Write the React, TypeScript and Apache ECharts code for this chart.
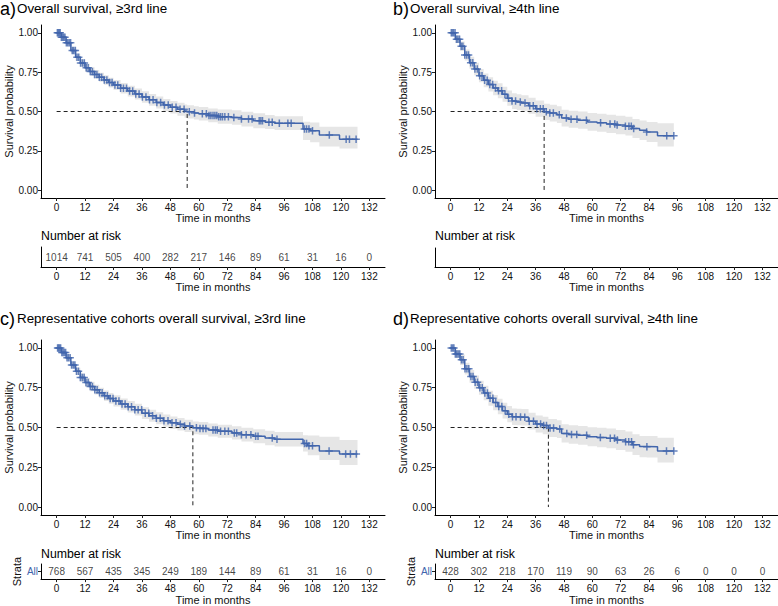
import React, { useEffect, useRef } from "react";
import * as echarts from "echarts";

// ---------- shared ticks ----------
const TIME_TICKS = [0, 12, 24, 36, 48, 60, 72, 84, 96, 108, 120, 132];
const SURV_TICKS = [0, 0.25, 0.5, 0.75, 1];

// ---------- panel a: overall survival, >=3rd line ----------
const timesA = [0, 2, 4, 6, 8, 10, 12, 14, 16, 18, 20, 22, 24, 27, 30, 33, 36, 39, 42, 45, 48, 51, 54, 55.1, 58, 60, 64, 68, 74, 78, 83, 88, 92, 104, 107, 110.9, 119.4, 127];
const survA = [1.0, 0.972, 0.937, 0.888, 0.845, 0.808, 0.778, 0.755, 0.736, 0.718, 0.7, 0.684, 0.668, 0.648, 0.63, 0.611, 0.592, 0.574, 0.557, 0.541, 0.527, 0.514, 0.503, 0.498, 0.491, 0.486, 0.475, 0.467, 0.462, 0.452, 0.441, 0.432, 0.425, 0.388, 0.378, 0.35, 0.323, 0.323];
const lowA = [1.0, 0.962, 0.922, 0.868, 0.823, 0.784, 0.752, 0.728, 0.708, 0.689, 0.67, 0.653, 0.636, 0.615, 0.596, 0.576, 0.556, 0.537, 0.519, 0.502, 0.487, 0.473, 0.461, 0.456, 0.449, 0.443, 0.431, 0.422, 0.416, 0.405, 0.393, 0.388, 0.383, 0.318, 0.305, 0.278, 0.265, 0.265];
const upA = [1.0, 0.982, 0.952, 0.908, 0.867, 0.832, 0.804, 0.782, 0.764, 0.747, 0.73, 0.715, 0.7, 0.681, 0.664, 0.646, 0.628, 0.611, 0.595, 0.58, 0.567, 0.555, 0.545, 0.54, 0.533, 0.529, 0.519, 0.512, 0.508, 0.499, 0.489, 0.478, 0.47, 0.435, 0.43, 0.403, 0.403, 0.403];
const censA = [0.3, 0.7, 1.1, 1.5, 2, 2.5, 3, 3.5, 4.1, 4.7, 5.3, 5.9, 6.6, 7.2, 7.9, 8.6, 9.3, 10.1, 10.9, 11.7, 12.5, 13.3, 14.2, 15.1, 16, 17, 18, 19, 20.1, 21.2, 22.3, 23.4, 24.6, 25.8, 27, 28.2, 29.5, 30.8, 32.1, 33.4, 34.8, 36.2, 37.7, 39.2, 40.7, 42.3, 43.9, 45.5, 47.1, 48.8, 50.4, 52.1, 53.8, 56, 58.2, 61.5, 63.2, 64.3, 65.1, 66, 66.8, 67.6, 68.4, 69.2, 70, 71, 72.5, 74.8, 78, 81, 82.5, 85.5, 86.2, 86.9, 89.6, 91, 94, 97.6, 99, 104.6, 105.5, 106.5, 108, 115.1, 122.2, 123.6, 126.4];
const medianA = 55.1;
const riskA = [1014, 741, 505, 400, 282, 217, 146, 89, 61, 31, 16, 0];

// ---------- panel b: overall survival, >=4th line ----------
const timesB = [0, 2, 4, 6, 8, 10, 12, 14, 16, 18, 20, 22, 24, 26, 28, 30, 33, 36, 39.6, 42, 45, 47, 50, 54, 58, 62, 66, 70, 74, 77, 80, 83, 87.6, 94.5];
const survB = [1.0, 0.96, 0.915, 0.86, 0.81, 0.77, 0.728, 0.698, 0.672, 0.65, 0.632, 0.61, 0.585, 0.566, 0.56, 0.554, 0.536, 0.518, 0.498, 0.49, 0.48, 0.458, 0.451, 0.445, 0.434, 0.428, 0.421, 0.414, 0.407, 0.392, 0.38, 0.369, 0.346, 0.346];
const lowB = [1.0, 0.935, 0.885, 0.825, 0.772, 0.73, 0.686, 0.654, 0.627, 0.604, 0.585, 0.562, 0.536, 0.516, 0.51, 0.504, 0.485, 0.466, 0.446, 0.437, 0.427, 0.405, 0.397, 0.39, 0.378, 0.371, 0.363, 0.355, 0.347, 0.331, 0.318, 0.306, 0.278, 0.278];
const upB = [1.0, 0.985, 0.945, 0.895, 0.848, 0.81, 0.77, 0.742, 0.717, 0.696, 0.679, 0.658, 0.634, 0.616, 0.61, 0.604, 0.587, 0.57, 0.55, 0.543, 0.533, 0.511, 0.505, 0.5, 0.49, 0.485, 0.479, 0.473, 0.467, 0.453, 0.442, 0.433, 0.425, 0.425];
const censB = [0.3, 0.8, 1.3, 1.9, 2.5, 3.1, 3.8, 4.5, 5.2, 6, 6.8, 7.6, 8.5, 9.4, 10.3, 11.3, 12.3, 13.3, 14.4, 15.5, 16.6, 17.8, 19, 20.3, 21.6, 23, 24.5, 26, 27.5, 29.5, 31.5, 33.5, 35, 36.5, 38, 39.2, 40.5, 42, 43.5, 46, 49, 51, 53.5, 57.5, 63.5, 67.5, 69.5, 70.5, 74, 75.5, 76.5, 77.5, 83, 91.5, 94.5];
const medianB = 39.6;
const riskB: number[] = [];

// ---------- panel c: representative cohorts, >=3rd line ----------
const timesC = [0, 2, 4, 6, 8, 10, 12, 14, 16, 18, 20, 22, 24, 27, 30, 33, 36, 39, 42, 45, 48, 51, 54, 57.5, 60, 64, 68, 74, 78, 83, 88, 92, 104, 106, 110.9, 119.4, 127];
const survC = [1.0, 0.972, 0.938, 0.893, 0.853, 0.815, 0.783, 0.758, 0.738, 0.718, 0.7, 0.683, 0.667, 0.647, 0.63, 0.612, 0.59, 0.574, 0.558, 0.543, 0.53, 0.52, 0.51, 0.498, 0.494, 0.484, 0.477, 0.466, 0.455, 0.445, 0.434, 0.426, 0.399, 0.385, 0.352, 0.333, 0.333];
const lowC = [1.0, 0.96, 0.922, 0.873, 0.83, 0.789, 0.755, 0.728, 0.707, 0.686, 0.667, 0.649, 0.632, 0.611, 0.594, 0.575, 0.553, 0.536, 0.52, 0.505, 0.491, 0.481, 0.471, 0.458, 0.454, 0.443, 0.436, 0.424, 0.412, 0.401, 0.389, 0.38, 0.349, 0.325, 0.296, 0.264, 0.264];
const upC = [1.0, 0.984, 0.954, 0.913, 0.876, 0.841, 0.811, 0.788, 0.769, 0.75, 0.733, 0.717, 0.702, 0.683, 0.666, 0.649, 0.627, 0.612, 0.596, 0.581, 0.569, 0.559, 0.549, 0.538, 0.534, 0.525, 0.518, 0.508, 0.498, 0.489, 0.479, 0.472, 0.452, 0.45, 0.442, 0.421, 0.421];
const censC = [0.4, 0.8, 1.2, 1.7, 2.2, 2.7, 3.2, 3.8, 4.4, 5, 5.7, 6.3, 7, 7.7, 8.4, 9.2, 10, 10.8, 11.6, 12.4, 13.3, 14.2, 15.1, 16.1, 17.1, 18.1, 19.2, 20.3, 21.4, 22.6, 23.8, 25, 26.3, 27.6, 28.9, 30.2, 31.6, 33, 34.4, 35.9, 37.4, 38.9, 40.5, 42.1, 43.7, 45.3, 47, 48.7, 50.4, 52.2, 54, 56.2, 59, 60.5, 61.8, 63, 66, 67, 67.8, 69.2, 71, 72.5, 75, 76, 78, 80, 82, 84, 85, 91, 93, 104.6, 105.5, 106.5, 108, 115, 122, 124, 126.5];
const medianC = 57.5;
const riskC = [768, 567, 435, 345, 249, 189, 144, 89, 61, 31, 16, 0];

// ---------- panel d: representative cohorts, >=4th line ----------
const timesD = [0, 2, 4, 6, 8, 10, 12, 14, 16, 18, 20, 22, 24, 26, 28, 30, 33, 36, 39, 41.4, 45, 47, 50, 54, 58, 62, 66, 70, 74, 77, 80, 83, 87.6, 94.5];
const survD = [1.0, 0.962, 0.926, 0.87, 0.821, 0.785, 0.75, 0.717, 0.684, 0.657, 0.632, 0.606, 0.584, 0.568, 0.566, 0.564, 0.54, 0.522, 0.512, 0.497, 0.49, 0.463, 0.456, 0.451, 0.442, 0.437, 0.432, 0.421, 0.411, 0.392, 0.38, 0.379, 0.352, 0.352];
const lowD = [1.0, 0.937, 0.893, 0.833, 0.781, 0.743, 0.706, 0.671, 0.637, 0.609, 0.583, 0.556, 0.533, 0.516, 0.514, 0.512, 0.487, 0.468, 0.457, 0.441, 0.434, 0.406, 0.398, 0.392, 0.382, 0.376, 0.37, 0.358, 0.347, 0.327, 0.313, 0.311, 0.28, 0.28];
const upD = [1.0, 0.987, 0.959, 0.907, 0.861, 0.827, 0.794, 0.763, 0.731, 0.705, 0.681, 0.656, 0.635, 0.62, 0.618, 0.616, 0.593, 0.576, 0.567, 0.553, 0.546, 0.52, 0.514, 0.51, 0.502, 0.498, 0.494, 0.484, 0.475, 0.457, 0.447, 0.447, 0.435, 0.435];
const censD = [0.3, 0.9, 1.4, 2, 2.6, 3.2, 3.9, 4.6, 5.3, 6.1, 6.9, 7.7, 8.6, 9.5, 10.4, 11.4, 12.4, 13.4, 14.5, 15.6, 16.7, 17.9, 19.1, 20.4, 21.7, 23.1, 24.6, 26.2, 27.7, 29.6, 31.4, 33.3, 35.1, 36.6, 38.1, 39.4, 40.6, 42.1, 43.6, 46.2, 49.2, 51.2, 53.4, 57.6, 63.4, 67.6, 69.4, 70.6, 74.1, 75.4, 76.6, 77.4, 83.1, 91.4, 94.5];
const medianD = 41.4;
const riskD = [428, 302, 218, 170, 119, 90, 63, 26, 6, 0, 0, 0];

// ---------- styling ----------
const FONT = "Liberation Sans, Arial, Helvetica, sans-serif";
const BLUE = "#4165AC";
const BAND = "#E6E6E6";
const TXT = "#111";
const PLUS = "path://M4,0H6V4H10V6H6V10H4V6H0V4H4Z";

type Panel = {
  letter: string;
  title: string;
  times: number[];
  surv: number[];
  low: number[];
  up: number[];
  cens: number[];
  median: number;
  risk: number[];
  strata: boolean;
  left: number;
  width: number;
  mainTop: number;
  mainH: number;
  riskTop: number;
  riskH: number;
  titleTop: number;
  nrTop: number;
};

const panels: Panel[] = [
  { letter: "a)", title: "Overall survival, \u22653rd line", times: timesA, surv: survA, low: lowA, up: upA, cens: censA, median: medianA, risk: riskA, strata: false,
    left: 41, width: 344, mainTop: 25, mainH: 173, riskTop: 247, riskH: 20, titleTop: 0, nrTop: 230 },
  { letter: "b)", title: "Overall survival, \u22654th line", times: timesB, surv: survB, low: lowB, up: upB, cens: censB, median: medianB, risk: riskB, strata: false,
    left: 435, width: 351, mainTop: 25, mainH: 173, riskTop: 248, riskH: 19, titleTop: 0, nrTop: 230 },
  { letter: "c)", title: "Representative cohorts overall survival, \u22653rd line", times: timesC, surv: survC, low: lowC, up: upC, cens: censC, median: medianC, risk: riskC, strata: true,
    left: 41, width: 344, mainTop: 340, mainH: 175, riskTop: 564, riskH: 18, titleTop: 310, nrTop: 548 },
  { letter: "d)", title: "Representative cohorts overall survival, \u22654th line", times: timesD, surv: survD, low: lowD, up: upD, cens: censD, median: medianD, risk: riskD, strata: true,
    left: 435, width: 351, mainTop: 340, mainH: 175, riskTop: 564, riskH: 18, titleTop: 310, nrTop: 548 },
];

function stepAt(times: number[], surv: number[], t: number): number {
  let s = surv[0];
  for (let i = 0; i < times.length; i++) if (times[i] <= t) s = surv[i];
  return s;
}

function bandRenderer(times: number[], low: number[], up: number[]) {
  return (_params: any, api: any) => {
    const top: number[][] = [];
    const bot: number[][] = [];
    for (let i = 0; i < times.length; i++) {
      const t0 = times[i];
      const t1 = i + 1 < times.length ? times[i + 1] : times[i];
      top.push(api.coord([t0, up[i]]), api.coord([t1, up[i]]));
      bot.push(api.coord([t0, low[i]]), api.coord([t1, low[i]]));
    }
    return {
      type: "polygon",
      shape: { points: top.concat(bot.reverse()) },
      style: { fill: BAND },
      silent: true,
    };
  };
}

const axisLine = { show: true, onZero: false, lineStyle: { color: "#000", width: 1 } };
const axisTickBase = { show: true, length: 3, lineStyle: { color: "#222", width: 1 } };

function timeAxis(gridIndex: number) {
  return {
    type: "value",
    gridIndex,
    min: -6.6,
    max: 138.6,
    name: "Time in months",
    nameLocation: "middle",
    nameGap: 14,
    nameTextStyle: { fontFamily: FONT, fontSize: 11, color: TXT, verticalAlign: "top" },
    axisLine,
    axisTick: { ...axisTickBase, customValues: TIME_TICKS },
    axisLabel: { customValues: TIME_TICKS, fontFamily: FONT, fontSize: 10, color: TXT, margin: 4 },
    splitLine: { show: false },
  };
}

function buildOption() {
  const grid: any[] = [];
  const xAxis: any[] = [];
  const yAxis: any[] = [];
  const series: any[] = [];
  const title: any[] = [];

  panels.forEach((p, k) => {
    const gMain = k * 2;
    const gRisk = k * 2 + 1;
    grid.push({ left: p.left, top: p.mainTop, width: p.width, height: p.mainH, containLabel: false });
    grid.push({ left: p.left, top: p.riskTop, width: p.width, height: p.riskH, containLabel: false });

    xAxis.push(timeAxis(gMain));
    xAxis.push(timeAxis(gRisk));

    yAxis.push({
      type: "value",
      gridIndex: gMain,
      min: -0.05,
      max: 1.05,
      name: "Survival probability",
      nameLocation: "middle",
      nameGap: 21,
      nameTextStyle: { fontFamily: FONT, fontSize: 11, color: TXT },
      axisLine,
      axisTick: { ...axisTickBase, customValues: SURV_TICKS },
      axisLabel: {
        customValues: SURV_TICKS,
        fontFamily: FONT,
        fontSize: 10,
        color: TXT,
        margin: 3,
        formatter: (v: number) => v.toFixed(2),
      },
      splitLine: { show: false },
    });
    yAxis.push({
      type: "category",
      gridIndex: gRisk,
      data: [p.strata ? "All" : ""],
      name: p.strata ? "Strata" : "",
      nameLocation: "middle",
      nameGap: 15,
      nameTextStyle: { fontFamily: FONT, fontSize: 11, color: TXT },
      axisLine,
      axisTick: { show: p.strata, length: 3, alignWithLabel: true, lineStyle: { color: "#222" } },
      axisLabel: { show: p.strata, fontFamily: FONT, fontSize: 10, color: BLUE, margin: 3 },
      splitLine: { show: false },
    });

    // CI band
    series.push({
      type: "custom",
      xAxisIndex: gMain,
      yAxisIndex: gMain,
      renderItem: bandRenderer(p.times, p.low, p.up),
      data: [[0, 0.5]],
      silent: true,
      z: 1,
    });
    // median lines
    series.push({
      type: "line",
      xAxisIndex: gMain,
      yAxisIndex: gMain,
      data: [[0, 0.5], [p.median, 0.5], [p.median, 0]],
      showSymbol: false,
      lineStyle: { color: "#222", width: 1, type: [4, 3] },
      silent: true,
      z: 2,
    });
    // KM curve
    series.push({
      type: "line",
      step: "end",
      xAxisIndex: gMain,
      yAxisIndex: gMain,
      data: p.times.map((t, i) => [t, p.surv[i]]),
      showSymbol: false,
      lineStyle: { color: BLUE, width: 1.5 },
      silent: true,
      z: 3,
    });
    // censor marks
    series.push({
      type: "scatter",
      xAxisIndex: gMain,
      yAxisIndex: gMain,
      data: p.cens.map((t) => [t, stepAt(p.times, p.surv, t)]),
      symbol: PLUS,
      symbolSize: 7.5,
      itemStyle: { color: BLUE },
      silent: true,
      z: 4,
    });
    // risk table numbers
    series.push({
      type: "scatter",
      xAxisIndex: gRisk,
      yAxisIndex: gRisk,
      data: p.risk.map((n, i) => [TIME_TICKS[i], 0, n]),
      symbolSize: 4,
      itemStyle: { color: "rgba(0,0,0,0)" },
      label: {
        show: true,
        position: "inside",
        formatter: (q: any) => String(q.value[2]),
        fontFamily: FONT,
        fontSize: 10,
        color: TXT,
      },
      silent: true,
    });

    // titles
    const lx = p.left < 100 ? 0 : 393;
    title.push({
      text: p.letter,
      left: lx,
      top: p.titleTop,
      padding: 0,
      textStyle: { fontFamily: FONT, fontSize: 18, fontWeight: "normal", color: "#000" },
    });
    title.push({
      text: p.title,
      left: lx + 17,
      top: p.titleTop + 2,
      padding: 0,
      textStyle: { fontFamily: FONT, fontSize: 13.4, fontWeight: "normal", color: "#000" },
    });
    title.push({
      text: "Number at risk",
      left: p.left,
      top: p.nrTop,
      padding: 0,
      textStyle: { fontFamily: FONT, fontSize: 12.3, fontWeight: "normal", color: "#000" },
    });
  });

  return { animation: false, backgroundColor: "#fff", title, grid, xAxis, yAxis, series };
}

export default function App() {
  const ref = useRef<HTMLDivElement>(null);
  useEffect(() => {
    if (!ref.current) return;
    const chart = echarts.init(ref.current, undefined, { renderer: "svg" });
    chart.setOption(buildOption() as any);
    return () => chart.dispose();
  }, []);
  return (
    <div
      ref={ref}
      style={{ position: "absolute", left: 0, top: 0, width: 778, height: 606, background: "#fff" }}
    />
  );
}
